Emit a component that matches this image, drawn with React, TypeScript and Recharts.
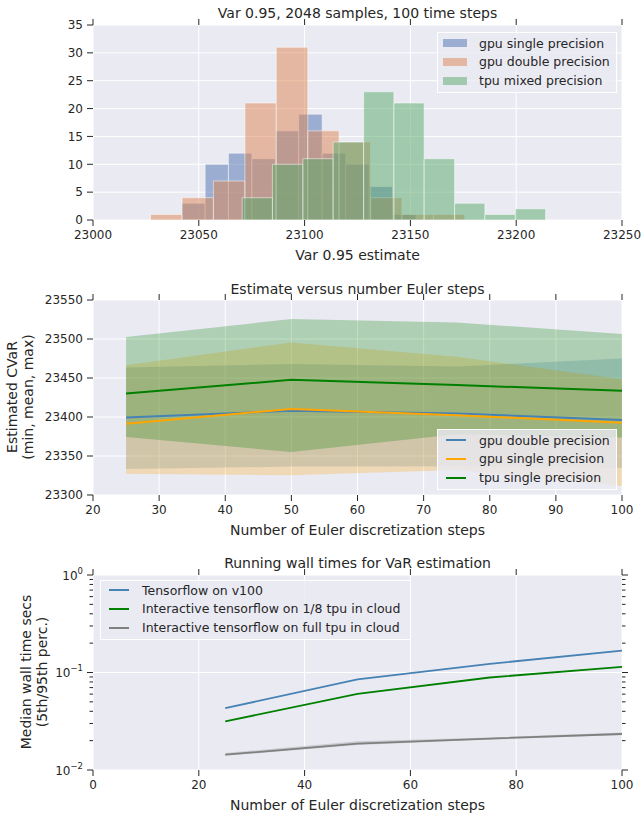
import React from 'react';
import {
  ComposedChart, Area, Line, XAxis, YAxis, CartesianGrid, ReferenceArea,
} from 'recharts';

const FONT = '"DejaVu Sans", "Liberation Sans", sans-serif';
const BG = '#EAEAF2';
const INK = '#262626';

// ---- panel 1: histograms of the VaR estimate (bin edges + counts)
const gpuSingleEdges = [23041.9, 23053.0, 23064.0, 23075.1, 23086.2, 23097.2, 23108.3, 23119.4, 23130.5, 23141.5, 23152.6];
const gpuSingleCounts = [3, 10, 12, 11, 16, 19, 12, 10, 6, 1];
const gpuDoubleEdges = [23027.2, 23042.1, 23056.9, 23071.8, 23086.6, 23101.5, 23116.3, 23131.2, 23146.0, 23160.9, 23175.7];
const gpuDoubleCounts = [1, 4, 7, 21, 31, 16, 14, 4, 1, 1];
const tpuMixedEdges = [23070.5, 23084.8, 23099.2, 23113.5, 23127.9, 23142.2, 23156.5, 23170.9, 23185.2, 23199.6, 23213.9];
const tpuMixedCounts = [4, 10, 11, 14, 23, 21, 11, 3, 1, 2];
const histXTicks = [23000, 23050, 23100, 23150, 23200, 23250];
const histYTicks = [0, 5, 10, 15, 20, 25, 30, 35];

// ---- panel 2: CVaR vs Euler steps (min / mean / max)
const eulerSteps = [25, 50, 75, 100];
const dblMean = [23399.3, 23407.9, 23404.5, 23396.3];
const dblMin = [23333.4, 23336.4, 23337.0, 23335.0];
const dblMax = [23463.5, 23467.8, 23464.8, 23475.0];
const sglMean = [23391.2, 23410.4, 23402.3, 23392.5];
const sglMin = [23327.4, 23325.2, 23332.0, 23311.6];
const sglMax = [23466.5, 23495.6, 23477.2, 23448.5];
const tpuMean = [23430.0, 23447.7, 23441.0, 23433.6];
const tpuMin = [23374.5, 23355.0, 23378.0, 23373.6];
const tpuMax = [23502.5, 23525.6, 23521.3, 23506.3];
const cvarXTicks = [20, 30, 40, 50, 60, 70, 80, 90, 100];
const cvarYTicks = [23300, 23350, 23400, 23450, 23500, 23550];

// ---- panel 3: wall times (log scale)
const v100Time = [0.0431, 0.0848, 0.1227, 0.168];
const tpu8Time = [0.0315, 0.0605, 0.0889, 0.1143];
const tpuFullTime = [0.01435, 0.0186, 0.021, 0.0234];
const tpuFullLo = [0.0140, 0.0180, 0.0205, 0.0228];
const tpuFullHi = [0.0149, 0.0197, 0.0216, 0.0243];
const timeXTicks = [0, 20, 40, 60, 80, 100];
const timeYTicks = [0.01, 0.02, 0.03, 0.04, 0.05, 0.06, 0.07, 0.08, 0.09, 0.1, 0.2, 0.3, 0.4, 0.5, 0.6, 0.7, 0.8, 0.9, 1];
const timeGridY = [0.01, 0.1, 1];

const BLUE = '#4682B4';
const ORANGE = '#FFA500';
const GREEN = '#008000';
const GRAY = '#808080';

const histSeries = [
  { name: 'gpu single precision', edges: gpuSingleEdges, counts: gpuSingleCounts, color: '#4C72B0' },
  { name: 'gpu double precision', edges: gpuDoubleEdges, counts: gpuDoubleCounts, color: '#DD8452' },
  { name: 'tpu mixed precision', edges: tpuMixedEdges, counts: tpuMixedCounts, color: '#55A868' },
];

// one row per bin left edge, just so the chart has data to lay out its axes
const histRows = histSeries.flatMap(s => s.counts.map((c, i) => ({ x: s.edges[i], c })));

const cvarRows = eulerSteps.map((s, i) => ({
  s,
  dbl: dblMean[i], dblRange: [dblMin[i], dblMax[i]],
  sgl: sglMean[i], sglRange: [sglMin[i], sglMax[i]],
  tpu: tpuMean[i], tpuRange: [tpuMin[i], tpuMax[i]],
}));

const timeRows = eulerSteps.map((s, i) => ({
  s, v100: v100Time[i], tpu8: tpu8Time[i], full: tpuFullTime[i], fullBand: [tpuFullLo[i], tpuFullHi[i]],
}));

const W = 642;
const CHART_H = 250;
const MARGIN = { top: 19, right: 0, bottom: 0, left: 0 };
const tickText = { fill: INK, fontSize: 12, fontFamily: FONT };
const tickLn = { stroke: INK, strokeWidth: 1 };

// tick mark only (no label), drawn outward from the plot edge
function MarkTick(props: any) {
  const { x, y, side } = props;
  if (side === 'top') return <line x1={x} x2={x} y1={y} y2={y - 6} stroke={INK} strokeWidth={1} />;
  return <line x1={x} x2={x + 6} y1={y} y2={y} stroke={INK} strokeWidth={1} />;
}

function LogTick(props: any) {
  const { x, y, payload, side } = props;
  const e = Math.log10(payload.value);
  const major = Math.abs(e - Math.round(e)) < 1e-9;
  const len = major ? 6 : 3.5;
  const dir = side === 'right' ? 1 : -1;
  const p = Math.round(e);
  return (
    <g>
      <line x1={x} x2={x + dir * len} y1={y} y2={y} stroke={INK} strokeWidth={1} />
      {major && side !== 'right' && (
        <text x={x - 10} y={y + 4.5} textAnchor="end" fill={INK} fontSize={12} fontFamily={FONT}>
          10<tspan dy={-6} fontSize={8.5}>{p === 0 ? '0' : '\u2212' + -p}</tspan>
        </text>
      )}
    </g>
  );
}

function Caption({ x, y, text, size = 14, rotate = false }: { x: number; y: number; text: string; size?: number; rotate?: boolean }) {
  return (
    <div style={{
      position: 'absolute', left: x, top: y, whiteSpace: 'nowrap', fontSize: size, color: INK, fontFamily: FONT,
      transform: `translate(-50%, -50%)${rotate ? ' rotate(-90deg)' : ''}`, lineHeight: 1,
    }}>{text}</div>
  );
}

type LegendItem = { label: string; color: string; kind: 'patch' | 'line' };

function LegendBox({ left, top, width, padTop, items }: { left: number; top: number; width: number; padTop: number; items: LegendItem[] }) {
  return (
    <div style={{
      position: 'absolute', left, top, width, boxSizing: 'border-box', padding: `${padTop}px 0 2px 0`,
      background: 'rgba(234,234,242,0.8)', border: '1px solid #fff', fontFamily: FONT, fontSize: 12.5, color: INK,
    }}>
      {items.map(it => (
        <div key={it.label} style={{ position: 'relative', height: 18.8, whiteSpace: 'nowrap' }}>
          {it.kind === 'patch' ? (
            <div style={{ position: 'absolute', left: 5, top: 5.4, width: 24, height: 8, background: it.color, opacity: 0.5 }} />
          ) : (
            <div style={{ position: 'absolute', left: 7.5, top: 8.4, width: 20, height: 2, background: it.color }} />
          )}
          <div style={{ position: 'absolute', left: 41, top: 2.5, lineHeight: '14px' }}>{it.label}</div>
        </div>
      ))}
    </div>
  );
}

export default function App() {
  const midX = (93 + 622) / 2;
  const topAxis = (dataKey: string, domain: [number, number], ticks: number[]) => (
    <XAxis xAxisId="top" orientation="top" type="number" dataKey={dataKey} domain={domain} ticks={ticks} interval={0}
      tick={<MarkTick side="top" />} tickLine={false} tickSize={0} tickMargin={0} axisLine={false} height={6} />
  );
  const rightAxis = (domain: [number, number], ticks: number[]) => (
    <YAxis yAxisId="right" orientation="right" type="number" domain={domain} ticks={ticks} interval={0}
      tick={<MarkTick side="right" />} tickLine={false} tickSize={0} tickMargin={0} axisLine={false} width={20} />
  );
  return (
    <div style={{ position: 'absolute', left: 0, top: 0, width: W, height: 815, background: '#fff', fontFamily: FONT }}>
      {/* Panel 1 */}
      <div style={{ position: 'absolute', left: 0, top: 0 }}>
        <ComposedChart width={W} height={CHART_H} margin={MARGIN} data={histRows}>
          <CartesianGrid stroke="#fff" strokeWidth={1} fill={BG} fillOpacity={1} />
          <XAxis type="number" dataKey="x" domain={[23000, 23250]} ticks={histXTicks} interval={0} allowDataOverflow
            tick={tickText} tickLine={tickLn} tickSize={6} tickMargin={4} axisLine={false} height={30} />
          {topAxis('x', [23000, 23250], histXTicks)}
          <YAxis type="number" domain={[0, 35]} ticks={histYTicks} interval={0} allowDataOverflow
            tick={tickText} tickLine={tickLn} tickSize={6} tickMargin={4} axisLine={false} width={93} />
          {rightAxis([0, 35], histYTicks)}
          <Line dataKey="c" stroke="none" dot={false} activeDot={false} legendType="none" isAnimationActive={false} />
          {histSeries.map(s => s.counts.map((c, i) => (
            <ReferenceArea key={s.name + i} x1={s.edges[i]} x2={s.edges[i + 1]} y1={0} y2={c}
              fill={s.color} fillOpacity={0.5} stroke="#fff" strokeOpacity={0.5} strokeWidth={1} ifOverflow="visible" />
          )))}
        </ComposedChart>
      </div>
      <Caption x={midX} y={13} text="Var 0.95, 2048 samples, 100 time steps" />
      <Caption x={midX} y={255} text="Var 0.95 estimate" />
      <LegendBox left={437} top={32} width={180} padTop={1} items={histSeries.map(s => ({ label: s.name, color: s.color, kind: 'patch' as const }))} />

      {/* Panel 2 */}
      <div style={{ position: 'absolute', left: 0, top: 275 }}>
        <ComposedChart width={W} height={CHART_H} margin={MARGIN} data={cvarRows}>
          <CartesianGrid stroke="#fff" strokeWidth={1} fill={BG} fillOpacity={1} />
          <XAxis type="number" dataKey="s" domain={[20, 100]} ticks={cvarXTicks} interval={0}
            tick={tickText} tickLine={tickLn} tickSize={6} tickMargin={4} axisLine={false} height={30} />
          {topAxis('s', [20, 100], cvarXTicks)}
          <YAxis type="number" domain={[23300, 23550]} ticks={cvarYTicks} interval={0} allowDataOverflow
            tick={tickText} tickLine={tickLn} tickSize={6} tickMargin={4} axisLine={false} width={93} />
          {rightAxis([23300, 23550], cvarYTicks)}
          <Area dataKey="dblRange" type="linear" fill={BLUE} fillOpacity={0.25} stroke="none" isAnimationActive={false} activeDot={false} />
          <Area dataKey="sglRange" type="linear" fill={ORANGE} fillOpacity={0.25} stroke="none" isAnimationActive={false} activeDot={false} />
          <Area dataKey="tpuRange" type="linear" fill={GREEN} fillOpacity={0.25} stroke="none" isAnimationActive={false} activeDot={false} />
          <Line dataKey="dbl" type="linear" stroke={BLUE} strokeWidth={2} dot={false} isAnimationActive={false} />
          <Line dataKey="sgl" type="linear" stroke={ORANGE} strokeWidth={2} dot={false} isAnimationActive={false} />
          <Line dataKey="tpu" type="linear" stroke={GREEN} strokeWidth={2} dot={false} isAnimationActive={false} />
        </ComposedChart>
      </div>
      <Caption x={midX} y={289} text="Estimate versus number Euler steps" />
      <Caption x={midX} y={530} text="Number of Euler discretization steps" />
      <Caption x={12} y={397} text="Estimated CVaR" rotate />
      <Caption x={28} y={397} text="(min, mean, max)" rotate />
      <LegendBox left={437} top={429} width={180} padTop={1} items={[
        { label: 'gpu double precision', color: BLUE, kind: 'line' },
        { label: 'gpu single precision', color: ORANGE, kind: 'line' },
        { label: 'tpu single precision', color: GREEN, kind: 'line' },
      ]} />

      {/* Panel 3 */}
      <div style={{ position: 'absolute', left: 0, top: 550 }}>
        <ComposedChart width={W} height={CHART_H} margin={MARGIN} data={timeRows}>
          <CartesianGrid stroke="#fff" strokeWidth={1} fill={BG} fillOpacity={1} horizontalValues={timeGridY} />
          <XAxis type="number" dataKey="s" domain={[0, 100]} ticks={timeXTicks} interval={0}
            tick={tickText} tickLine={tickLn} tickSize={6} tickMargin={4} axisLine={false} height={30} />
          {topAxis('s', [0, 100], timeXTicks)}
          <YAxis type="number" scale="log" domain={[0.01, 1]} ticks={timeYTicks} interval={0} allowDataOverflow
            tick={<LogTick side="left" />} tickLine={false} tickSize={0} tickMargin={0} axisLine={false} width={93} />
          <YAxis yAxisId="right" orientation="right" type="number" scale="log" domain={[0.01, 1]} ticks={timeYTicks} interval={0} allowDataOverflow
            tick={<LogTick side="right" />} tickLine={false} tickSize={0} tickMargin={0} axisLine={false} width={20} />
          <Area dataKey="fullBand" type="linear" fill={GRAY} fillOpacity={0.3} stroke="none" isAnimationActive={false} activeDot={false} />
          <Line dataKey="v100" type="linear" stroke={BLUE} strokeWidth={1.8} dot={false} isAnimationActive={false} />
          <Line dataKey="tpu8" type="linear" stroke={GREEN} strokeWidth={1.8} dot={false} isAnimationActive={false} />
          <Line dataKey="full" type="linear" stroke={GRAY} strokeWidth={1.8} dot={false} isAnimationActive={false} />
        </ComposedChart>
      </div>
      <Caption x={midX} y={563} text="Running wall times for VaR estimation" />
      <Caption x={midX} y={805} text="Number of Euler discretization steps" />
      <Caption x={26} y={672} text="Median wall time secs" rotate />
      <Caption x={42} y={672} text="(5th/95th perc.)" rotate />
      <LegendBox left={100} top={579.5} width={311} padTop={0.5} items={[
        { label: 'Tensorflow on v100', color: BLUE, kind: 'line' },
        { label: 'Interactive tensorflow on 1/8 tpu in cloud', color: GREEN, kind: 'line' },
        { label: 'Interactive tensorflow on full tpu in cloud', color: GRAY, kind: 'line' },
      ]} />
    </div>
  );
}
